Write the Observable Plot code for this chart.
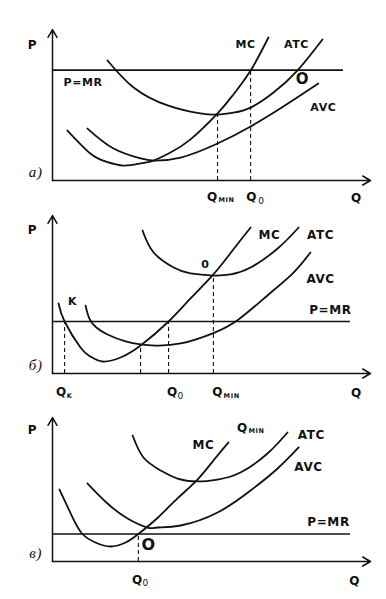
<!DOCTYPE html>
<html><head><meta charset="utf-8">
<script src="https://cdn.jsdelivr.net/npm/d3@7"></script>
<script src="https://cdn.jsdelivr.net/npm/@observablehq/plot@0.6"></script>
<style>
html,body{margin:0;padding:0;background:#fff}
#chart{width:386px;height:599px;overflow:hidden}
#chart svg{display:block}
</style></head><body><div id="chart"></div>
<script>
// ---- Panel а) : curves as [Q, P] points ----
const mcA  = [[4.7,33.1],[11.9,17.9],[16.7,12.6],[22.3,9.9],[27.7,11.3],[31.8,13.2],[37.1,18.5],[43.4,27.2],[51.9,44.4],[56.9,57.0],[62.3,72.8],[67.9,94.7]];
const atcA = [[17.3,79.5],[25.5,61.6],[36.2,49.7],[46.5,44.4],[51.9,43.7],[56.9,45.0],[62.3,48.3],[69.5,58.3],[77.0,72.8],[84.9,93.4]];
const avcA = [[11.0,34.4],[19.2,21.2],[27.7,14.6],[31.8,13.2],[40.3,15.2],[51.9,24.5],[62.3,35.8],[72.6,49.0],[83.6,64.2]];
const priceA = 73.1, priceEndA = 91.5;
const dashA = [{q:51.9,p:43.7},{q:62.3,p:73.1}];

// ---- Panel б) ----
const mcB  = [[1.9,44.3],[3.8,32.9],[8.8,16.5],[11.9,10.8],[15.7,7.6],[21.4,10.1],[27.7,17.7],[36.5,32.9],[43.4,47.5],[50.6,62.7],[56.6,77.8],[62.3,92.4]];
const atcB = [[28.3,90.5],[31.8,76.6],[38.1,67.1],[43.4,63.3],[50.6,62.0],[56.0,62.7],[62.3,67.1],[70.8,79.1],[77.4,92.4]];
const avcB = [[10.4,43.0],[11.6,34.8],[13.8,29.1],[17.3,24.7],[23.0,20.3],[27.7,18.4],[32.4,17.7],[40.3,19.0],[50.6,25.6],[58.5,34.2],[67.6,49.4],[75.8,63.9],[81.1,76.6]];
const priceB = 32.9, priceEndB = 93.7;
const dashB = [{q:3.8,p:32.9},{q:27.7,p:17.7},{q:36.5,p:32.9},{q:50.6,p:62.0}];

// ---- Panel в) ----
const mcC  = [[2.2,50.0],[6.3,30.6],[9.4,19.1],[13.5,13.2],[18.2,10.4],[23.0,13.2],[27.0,19.1],[33.0,30.2],[39.3,43.8],[45.6,56.9],[50.6,70.1],[55.3,82.6]];
const atcC = [[25.2,87.5],[28.6,72.2],[34.0,63.2],[39.3,57.6],[45.6,55.6],[51.9,56.9],[59.1,61.8],[67.6,75.0],[73.9,89.6]];
const avcC = [[11.0,54.2],[17.3,40.3],[23.6,29.9],[29.9,23.6],[33.0,23.6],[40.3,25.0],[51.9,34.0],[62.3,49.3],[70.8,64.6],[77.4,79.2]];
const priceC = 19.1, priceEndC = 93.7;
const dashC = [{q:27.0,p:19.1}];

// ---- Labels (text, anchor position in Q/P units, size) ----
const boldA = [
  {t:"P",q:-6.3,p:89.4,s:12},{t:"MC",q:60.7,p:90.1,s:11},{t:"ATC",q:76.7,p:90.1,s:11},
  {t:"O",q:78.6,p:66.9,s:15},{t:"AVC",q:85.2,p:48.3,s:11},{t:"P=MR",q:9.6,p:64.9,s:11},
  {t:"Q",q:50.3,p:-11.3,s:12},{t:"Q",q:62.6,p:-11.3,s:12},{t:"Q",q:95.6,p:-11.9,s:12}
];
const subA = [{t:"MIN",q:52.2,p:-12.8,s:6.5,w:"bold",a:"start"},{t:"0",q:65.7,p:-13.4,s:9,w:"normal",a:"middle"}];
const italA = [{t:"a)",q:-5.3,p:5.3}];

const boldB = [
  {t:"P",q:-6.3,p:90.5,s:12},{t:"MC",q:68.2,p:87.3,s:12},{t:"ATC",q:84.3,p:87.3,s:12},
  {t:"0",q:48.1,p:69.0,s:11},{t:"AVC",q:84.3,p:59.5,s:12},{t:"K",q:6.3,p:45.6,s:11},
  {t:"P=MR",q:87.4,p:39.9,s:12},
  {t:"Q",q:2.8,p:-12.0,s:12},{t:"Q",q:37.7,p:-12.0,s:12},{t:"Q",q:51.9,p:-12.0,s:12},{t:"Q",q:95.6,p:-12.7,s:12}
];
const subB = [{t:"K",q:5.4,p:-14.0,s:6.5,w:"bold",a:"middle"},{t:"0",q:40.3,p:-14.0,s:9,w:"normal",a:"middle"},{t:"MIN",q:53.8,p:-14.0,s:6.5,w:"bold",a:"start"}];
const italB = [{t:"б)",q:-5.3,p:5.1}];

const boldC = [
  {t:"P",q:-6.3,p:91.0,s:12},{t:"MC",q:47.5,p:80.6,s:12},{t:"Q",q:59.7,p:92.4,s:12},
  {t:"ATC",q:81.4,p:87.5,s:12},{t:"AVC",q:80.5,p:65.3,s:12},{t:"P=MR",q:86.8,p:27.1,s:12},
  {t:"O",q:30.2,p:11.8,s:16},{t:"Q",q:26.7,p:-13.2,s:12},{t:"Q",q:95.0,p:-13.9,s:12}
];
const subC = [{t:"MIN",q:61.6,p:91.0,s:6.5,w:"bold",a:"start"},{t:"0",q:29.3,p:-15.3,s:9,w:"normal",a:"middle"}];
const italC = [{t:"в)",q:-5.3,p:5.6}];

const pts = a => a.map(([q, p]) => ({q, p}));

function panel(o) {
  const ink = "#111";
  const curve = d => Plot.line(pts(d), {x: "q", y: "p", curve: "natural", stroke: ink, strokeWidth: 1.8});
  const subMarks = [];
  for (const w of ["bold", "normal"]) for (const a of ["start", "middle"]) {
    const g = o.sub.filter(d => d.w === w && d.a === a);
    if (g.length) subMarks.push(Plot.text(g, {x: "q", y: "p", text: "t", fontSize: d => d.s, fontWeight: w, textAnchor: a, fill: ink}));
  }
  return Plot.plot({
    width: 386, height: o.height,
    marginLeft: 52, marginRight: 16, marginTop: o.top, marginBottom: o.bottom,
    x: {domain: [0, 100], axis: null},
    y: {domain: [0, 100], axis: null},
    style: {fontFamily: "'DejaVu Sans', sans-serif", background: "white", color: ink, overflow: "visible", letterSpacing: "0.6px"},
    marks: [
      Plot.ruleY([o.price], {x1: 0, x2: o.priceEnd, stroke: ink, strokeWidth: 1.6}),
      Plot.ruleX(o.dash, {x: "q", y1: 0, y2: "p", stroke: ink, strokeWidth: 1.1, strokeDasharray: "4,3"}),
      curve(o.mc), curve(o.atc), curve(o.avc),
      Plot.arrow([{x1: 0, y1: 0, x2: 0, y2: 100}, {x1: 0, y1: 0, x2: 100, y2: 0}],
        {x1: "x1", y1: "y1", x2: "x2", y2: "y2", stroke: ink, strokeWidth: 1.5, headLength: 9}),
      Plot.text(o.bold, {x: "q", y: "p", text: "t", fontSize: d => d.s, fontWeight: "bold", fill: ink}),
      ...subMarks,
      Plot.text(o.ital, {x: "q", y: "p", text: "t", fontSize: 15, fontStyle: "italic", fontFamily: "'Liberation Serif', serif", fill: ink})
    ]
  });
}

const root = document.getElementById("chart");
root.append(panel({height: 205, top: 29, bottom: 25, mc: mcA, atc: atcA, avc: avcA, price: priceA, priceEnd: priceEndA, dash: dashA, bold: boldA, sub: subA, ital: italA}));
root.append(panel({height: 197, top: 10, bottom: 29, mc: mcB, atc: atcB, avc: avcB, price: priceB, priceEnd: priceEndB, dash: dashB, bold: boldB, sub: subB, ital: italB}));
root.append(panel({height: 197, top: 15, bottom: 38, mc: mcC, atc: atcC, avc: avcC, price: priceC, priceEnd: priceEndC, dash: dashC, bold: boldC, sub: subC, ital: italC}));
</script>
</body></html>
